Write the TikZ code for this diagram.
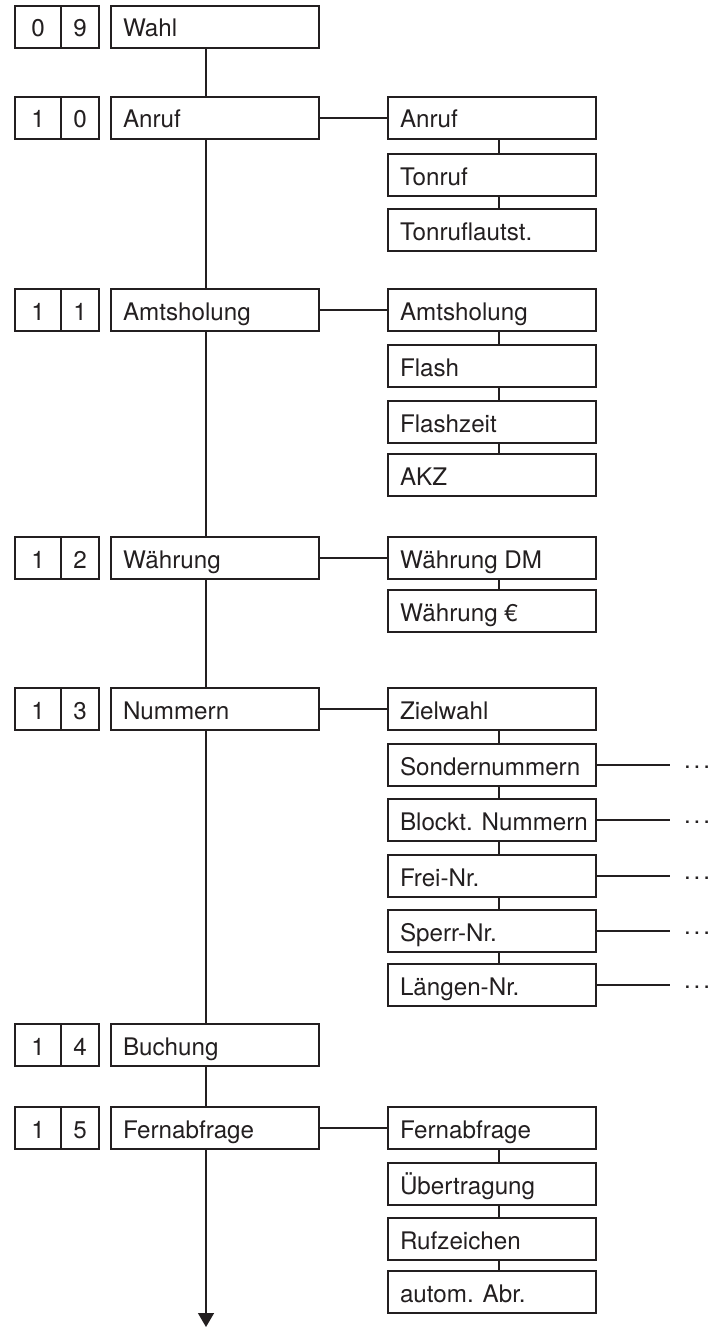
\documentclass[tikz,border=0pt]{standalone}
\usepackage{fontspec}
\setmainfont{TeX Gyre Heros}
\usetikzlibrary{calc,arrows.meta}
\definecolor{ink}{RGB}{35,31,32}
\newcommand{\fs}{\fontsize{24.2}{29}\selectfont}
\newcommand{\lbl}[1]{\makebox[184pt][l]{#1}}
\newcommand{\dotsep}{\fontsize{24.2}{29}\selectfont .\kern2.8pt.\kern2.8pt.}
\begin{document}
\begin{tikzpicture}[x=1pt,y=-1pt,
  box/.style={draw=ink, line width=1.4pt, anchor=north west, minimum height=42pt,
    inner ysep=0pt, outer sep=0pt, text height=20pt, text depth=0pt, font=\fs, text=ink},
  numA/.style={box, minimum width=46pt, inner xsep=0pt},
  numB/.style={box, minimum width=38pt, inner xsep=0pt},
  mainbox/.style={box, inner xsep=12pt},
  subbox/.style={box, inner xsep=12pt},
  wire/.style={draw=ink, line width=1.4pt},
  dotlbl/.style={anchor=base west, inner sep=0pt, text=ink}
]
\fill[white] (0,0) rectangle (714,1327);
\useasboundingbox (0,0) rectangle (714,1327);

% ---- main column ----
\node[numA] (n09a) at (15,6) {0};
\node[numB] (n09b) at (n09a.north east) {9};
\node[mainbox] (m09) at (111,6) {\lbl{Wahl}};

\node[numA] (n10a) at (15,97) {1};
\node[numB] (n10b) at (n10a.north east) {0};
\node[mainbox] (m10) at (111,97) {\lbl{Anruf}};

\node[numA] (n11a) at (15,289) {1};
\node[numB] (n11b) at (n11a.north east) {1};
\node[mainbox] (m11) at (111,289) {\lbl{Amtsholung}};

\node[numA] (n12a) at (15,537) {1};
\node[numB] (n12b) at (n12a.north east) {2};
\node[mainbox] (m12) at (111,537) {\lbl{Währung}};

\node[numA] (n13a) at (15,688) {1};
\node[numB] (n13b) at (n13a.north east) {3};
\node[mainbox] (m13) at (111,688) {\lbl{Nummern}};

\node[numA] (n14a) at (15,1024) {1};
\node[numB] (n14b) at (n14a.north east) {4};
\node[mainbox] (m14) at (111,1024) {\lbl{Buchung}};

\node[numA] (n15a) at (15,1107) {1};
\node[numB] (n15b) at (n15a.north east) {5};
\node[mainbox] (m15) at (111,1107) {\lbl{Fernabfrage}};

% ---- sub boxes ----
\node[subbox] (s10a) at (388,97) {\lbl{Anruf}};
\node[subbox] (s10b) at (388,154) {\lbl{Tonruf}};
\node[subbox] (s10c) at (388,209) {\lbl{Tonruflautst.}};

\node[subbox] (s11a) at (388,289) {\lbl{Amtsholung}};
\node[subbox] (s11b) at (388,345) {\lbl{Flash}};
\node[subbox] (s11c) at (388,401) {\lbl{Flashzeit}};
\node[subbox] (s11d) at (388,454) {\lbl{AKZ}};

\node[subbox] (s12a) at (388,537) {\lbl{Währung DM}};
\node[subbox] (s12b) at (388,590) {\lbl{Währung €}};

\node[subbox] (s13a) at (388,688) {\lbl{Zielwahl}};
\node[subbox] (s13b) at (388,744) {\lbl{Sondernummern}};
\node[subbox] (s13c) at (388,799) {\lbl{Blockt. Nummern}};
\node[subbox] (s13d) at (388,855) {\lbl{Frei-Nr.}};
\node[subbox] (s13e) at (388,910) {\lbl{Sperr-Nr.}};
\node[subbox] (s13f) at (388,964) {\lbl{Längen-Nr.}};

\node[subbox] (s15a) at (388,1107) {\lbl{Fernabfrage}};
\node[subbox] (s15b) at (388,1163) {\lbl{Übertragung}};
\node[subbox] (s15c) at (388,1218) {\lbl{Rufzeichen}};
\node[subbox] (s15d) at (388,1271) {\lbl{autom. Abr.}};

% ---- trunk ----
\draw[wire] ($(m09.south west)+(95,0)$) -- ($(m10.north west)+(95,0)$);
\draw[wire] ($(m10.south west)+(95,0)$) -- ($(m11.north west)+(95,0)$);
\draw[wire] ($(m11.south west)+(95,0)$) -- ($(m12.north west)+(95,0)$);
\draw[wire] ($(m12.south west)+(95,0)$) -- ($(m13.north west)+(95,0)$);
\draw[wire] ($(m13.south west)+(95,0)$) -- ($(m14.north west)+(95,0)$);
\draw[wire] ($(m14.south west)+(95,0)$) -- ($(m15.north west)+(95,0)$);
\coordinate (arrowend) at (206,1327);
\draw[wire, -{Triangle[width=16pt,length=14pt]}] ($(m15.south west)+(95,0)$) -- (arrowend);

% ---- branches ----
\draw[wire] (m10.east) -- (m10.east -| s10a.west);
\draw[wire] (m11.east) -- (m11.east -| s11a.west);
\draw[wire] (m12.east) -- (m12.east -| s12a.west);
\draw[wire] (m13.east) -- (m13.east -| s13a.west);
\draw[wire] (m15.east) -- (m15.east -| s15a.west);

% ---- sub chains ----
\foreach \a/\b in {s10a/s10b, s10b/s10c, s11a/s11b, s11b/s11c, s11c/s11d,
  s12a/s12b, s13a/s13b, s13b/s13c, s13c/s13d, s13d/s13e, s13e/s13f,
  s15a/s15b, s15b/s15c, s15c/s15d}
  \draw[wire] ($(\a.south west)+(111,0)$) -- ($(\b.north west)+(111,0)$);

% ---- continuation stubs ----
\foreach \s in {s13b, s13c, s13d, s13e, s13f}{
  \coordinate (e\s) at ($(\s.east)+(74,0)$);
  \draw[wire] (\s.east) -- (e\s);
  \node[dotlbl] (d\s) at ($(\s.east)+(88,3)$) {\dotsep};
}
\end{tikzpicture}
\end{document}
